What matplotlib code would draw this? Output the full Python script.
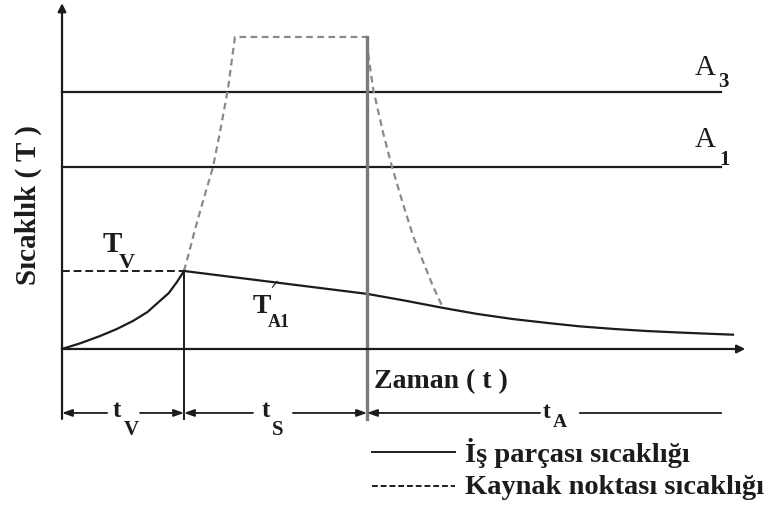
import numpy as np
import matplotlib
matplotlib.use("Agg")
import matplotlib.pyplot as plt

plt.rcParams['font.family'] = ['Liberation Serif', 'DejaVu Serif']

# Zaman ve sıcaklık (keyfi birimler)
t_v = 4.0          # ön tavlama süresi sonu
t_s = 10.0         # kaynak süresi sonu
t_end = 21.6       # A çizgilerinin bittiği zaman
T_a3 = 9.9
T_a1 = 7.0
T_v = 3.0
T_peak = 12.0

# İş parçası sıcaklığı: ısınma ve soğuma
heat_t = [0.0, 0.6, 1.25, 1.8, 2.33, 2.8, 3.21, 3.5, 3.77, 4.0]
heat_T = [0.0, 0.22, 0.5, 0.77, 1.08, 1.42, 1.85, 2.15, 2.58, 3.0]
cool_t = [4.0, 7.0, 10.0, 11.2, 12.49, 13.6, 14.79, 16.0, 16.98,
          18.1, 19.18, 20.3, 21.34, 22.0]
cool_T = [3.0, 2.56, 2.12, 1.87, 1.58, 1.35, 1.15, 0.99, 0.87,
          0.77, 0.69, 0.63, 0.58, 0.55]

# Kaynak noktası sıcaklığı
weld_t = [4.0, 4.16, 4.33, 4.52, 4.72, 4.95, 5.18, 5.44, 5.67,
          10.0, 10.03, 10.2, 10.52, 10.82, 11.18, 11.51, 11.84, 12.16, 12.49]
weld_T = [3.0, 3.69, 4.46, 5.27, 6.08, 7.0, 8.35, 10.0, 12.0,
          12.0, 11.42, 10.0, 8.35, 7.0, 5.58, 4.35, 3.35, 2.42, 1.58]

legend_labels = ['İş parçası sıcaklığı', 'Kaynak noktası sıcaklığı']

dark = '#1c1c1c'
gray = '#8a8a8a'

fig = plt.figure(figsize=(7.73, 5.10), dpi=100)
ax = fig.add_axes([0, 0, 1, 1])
ax.set_xlim(-2.033, 23.31)
ax.set_ylim(-6.154, 13.46)
ax.axis('off')

dim_y = -2.46
tick_bottom = -2.69

# eksenler
ax.annotate('', xy=(0, 13.3), xytext=(0, tick_bottom),
            arrowprops=dict(arrowstyle='-|>', color=dark, lw=1.6,
                            mutation_scale=12, shrinkA=0, shrinkB=0))
ax.annotate('', xy=(22.4, 0), xytext=(0, 0),
            arrowprops=dict(arrowstyle='-|>', color=dark, lw=1.6,
                            mutation_scale=12, shrinkA=0, shrinkB=0))

# dönüşüm sıcaklıkları
ax.plot([0, t_end], [T_a3, T_a3], color=dark, lw=1.6)
ax.plot([0, t_end], [T_a1, T_a1], color=dark, lw=1.6)

# kaynak noktası eğrisi
ax.plot(weld_t, weld_T, color=gray, lw=1.6, ls=(0, (3, 2)))

# ön tavlama sıcaklığı
ax.plot([0, t_v], [T_v, T_v], color=dark, lw=1.4, ls=(0, (4, 2)))

# iş parçası eğrisi
ax.plot(heat_t, heat_T, color=dark, lw=1.6)
ax.plot(cool_t, cool_T, color=dark, lw=1.6)

# dikey sınır çizgileri
ax.plot([t_v, t_v], [T_v, tick_bottom], color=dark, lw=1.4)
ax.plot([t_s, t_s], [T_peak, tick_bottom], color='#7a7a7a', lw=2.4)

# ölçü okları
arrow = dict(arrowstyle='-|>,head_length=0.5,head_width=0.18', color=dark,
             lw=1.3, mutation_scale=12, shrinkA=0, shrinkB=0)
segments = [(1.48, 0.0), (2.56, t_v), (6.26, t_v), (7.57, t_s),
            (15.67, t_s)]
for start, end in segments:
    ax.annotate('', xy=(end, dim_y), xytext=(start, dim_y), arrowprops=arrow)
ax.plot([16.98, t_end], [dim_y, dim_y], color=dark, lw=1.3)


def sub_label(x, y, main, sub, dx, dy, size, subsize, weight='normal'):
    ax.text(x, y, main, fontsize=size, color=dark, ha='left', va='baseline',
            fontweight=weight)
    ax.text(x + dx, y + dy, sub, fontsize=subsize, color=dark, ha='left',
            va='baseline', fontweight='bold')


sub_label(1.34, 3.77, 'T', 'V', 0.53, -0.62, 21, 16, weight='bold')
sub_label(6.26, 1.42, 'T', 'A1', 0.49, -0.54, 20, 13, weight='bold')
ax.plot([6.9, 7.05], [2.38, 2.6], color=dark, lw=0.8)
sub_label(20.75, 10.58, 'A', '3', 0.75, -0.46, 21, 15)
sub_label(20.75, 7.81, 'A', '1', 0.8, -0.69, 21, 15)
sub_label(1.67, -2.58, 't', 'V', 0.36, -0.69, 18, 15, weight='bold')
sub_label(6.56, -2.58, 't', 'S', 0.33, -0.69, 18, 15, weight='bold')
sub_label(15.77, -2.6, 't', 'A', 0.33, -0.36, 17, 14, weight='bold')

ax.text(10.23, -1.46, 'Zaman ( t )', fontsize=20, fontweight='bold',
        color=dark, ha='left', va='baseline')
ax.text(-1.11, 5.58, 'Sıcaklık ( T )', fontsize=21, fontweight='bold',
        color=dark, rotation=90, ha='center', va='center')

# açıklama
legend_y = [-3.96, -5.27]
legend_ls = ['-', (0, (3, 1.5))]
for y, ls, label in zip(legend_y, legend_ls, legend_labels):
    ax.plot([10.16, 12.89], [y, y], color=dark, lw=1.4, ls=ls)
    ax.text(13.2, y, label, fontsize=20.5, fontweight='bold', color=dark,
            ha='left', va='center')

fig.savefig('out.png', dpi=100)
